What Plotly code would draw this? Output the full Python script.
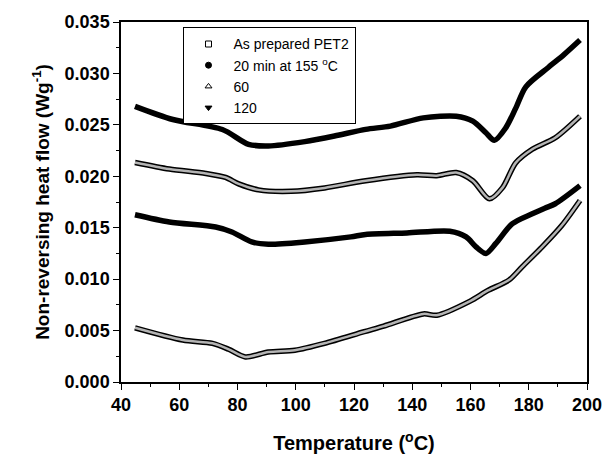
import plotly.graph_objects as go

# Temperature (°C) and non-reversing heat flow (W/g) for each sample
t_as_prepared = [44.8, 61.2, 71.4, 77.0, 82.7, 90.6, 99.7, 109.9, 123.5, 130.2,
                 143.8, 148.4, 159.7, 166.0, 173.3, 177.8, 184.6, 191.4, 197.6]
hf_as_prepared = [0.00527, 0.00408, 0.00376, 0.00318, 0.00244, 0.00292, 0.00309,
                  0.00376, 0.00489, 0.00543, 0.00662, 0.00649, 0.00784, 0.00890,
                  0.00993, 0.01122, 0.01314, 0.01524, 0.01765]

t_20min = [44.8, 56.6, 72.5, 78.1, 84.9, 90.6, 103.1, 118.9, 124.0, 138.2, 152.9,
           158.5, 161.9, 165.3, 168.7, 174.4, 181.2, 185.5, 189.1, 197.6]
hf_20min = [0.01626, 0.01556, 0.01507, 0.01459, 0.01362, 0.01340, 0.01362, 0.01411,
            0.01434, 0.01449, 0.01466, 0.01411, 0.01314, 0.01250, 0.01347, 0.01540,
            0.01636, 0.01690, 0.01733, 0.01909]

t_60 = [44.8, 56.6, 69.1, 75.9, 80.4, 87.2, 98.5, 109.9, 124.0, 141.6, 148.4,
        155.1, 160.8, 166.5, 171.0, 175.5, 181.2, 189.1, 197.6]
hf_60 = [0.02134, 0.02070, 0.02028, 0.01989, 0.01926, 0.01868, 0.01854, 0.01887,
         0.01957, 0.02015, 0.02006, 0.02037, 0.01957, 0.01781, 0.01890, 0.02130,
         0.02263, 0.02375, 0.02584]

t_120 = [44.8, 57.8, 74.8, 83.8, 90.6, 103.1, 113.3, 124.0, 132.5, 143.8, 155.1,
         160.8, 165.3, 168.2, 172.1, 175.5, 179.0, 186.8, 192.0, 197.6]
hf_120 = [0.02680, 0.02552, 0.02455, 0.02311, 0.02295, 0.02337, 0.02391, 0.02456,
          0.02488, 0.02568, 0.02584, 0.02536, 0.02423, 0.02350, 0.02471, 0.02660,
          0.02870, 0.03060, 0.03180, 0.03324]

series = [
    ("As prepared PET2", t_as_prepared, hf_as_prepared, "square-open", True),
    ("20 min at 155 <sup>o</sup>C", t_20min, hf_20min, "circle", False),
    ("60", t_60, hf_60, "triangle-up-open", True),
    ("120", t_120, hf_120, "triangle-down", False),
]

fig = go.Figure()

# each curve is a thick black band; open-symbol samples get a light core
for name, t, hf, symbol, hollow in series:
    fig.add_trace(go.Scatter(
        x=t, y=hf, mode="lines", showlegend=False, hoverinfo="skip",
        line=dict(color="black", width=5.5 if hollow else 5.5, shape="spline", smoothing=0.8),
    ))
    if hollow:
        fig.add_trace(go.Scatter(
            x=t, y=hf, mode="lines", showlegend=False, hoverinfo="skip",
            line=dict(color="#b4b4b4", width=2.5, shape="spline", smoothing=0.8),
        ))

# legend entries (symbol only)
for name, t, hf, symbol, hollow in series:
    fig.add_trace(go.Scatter(
        x=[None], y=[None], mode="markers", name=name,
        marker=dict(symbol=symbol, size=6, color="black", line=dict(color="black", width=1)),
    ))

axis_common = dict(
    showgrid=False, zeroline=False, showline=True, linecolor="black", linewidth=1.5,
    mirror=True, ticks="outside", ticklen=6, tickwidth=1.2, tickcolor="black",
    tickfont=dict(family="Liberation Sans, Arial", size=18, color="black", weight="bold"),
)

fig.update_xaxes(
    range=[40, 200], tick0=40, dtick=20,
    minor=dict(ticks="outside", ticklen=3, dtick=10, tickcolor="black"),
    title=dict(text="Temperature (<sup>o</sup>C)", standoff=22,
               font=dict(family="Liberation Sans, Arial", size=20, color="black", weight="bold")),
    **axis_common,
)
fig.update_yaxes(
    range=[0, 0.035], tick0=0, dtick=0.005, tickformat=".3f",
    minor=dict(ticks="outside", ticklen=3, dtick=0.0025, tickcolor="black"),
    title=dict(text="Non-reversing heat flow (Wg<sup>-1</sup>)", standoff=10,
               font=dict(family="Liberation Sans, Arial", size=19, color="black", weight="bold")),
    **axis_common,
)

fig.update_layout(
    width=614, height=463,
    margin=dict(l=121, r=22, t=20, b=80),
    paper_bgcolor="white", plot_bgcolor="white",
    legend=dict(
        x=0.132, y=0.985, xanchor="left", yanchor="top",
        bgcolor="white", bordercolor="black", borderwidth=1,
        font=dict(family="Liberation Sans, Arial", size=14, color="black"),
        itemwidth=40, tracegroupgap=0,
    ),
)

fig.write_html("out.html")
